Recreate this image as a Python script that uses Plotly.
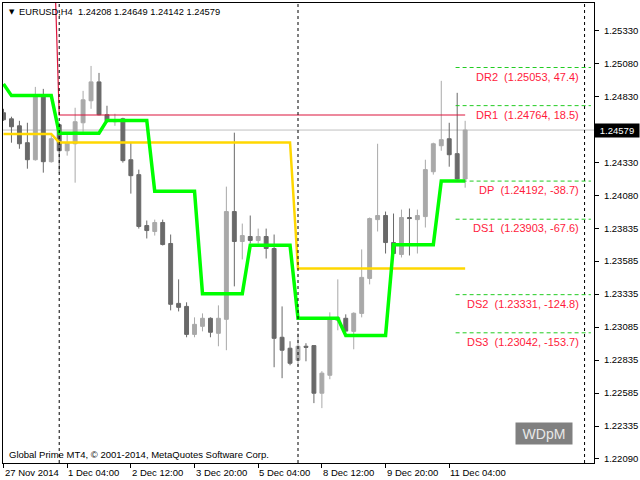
import plotly.graph_objects as go

# H4 bars, index 0 = 27 Nov 2014 20:00
opens = [1.24710, 1.24664, 1.24611, 1.24483, 1.24354, 1.24838, 1.24339, 1.24619, 1.24422, 1.24475,
         1.24634, 1.24801, 1.24944, 1.24695, 1.24642, 1.24664, 1.24354, 1.24241, 1.23855, 1.23810,
         1.23878, 1.23719, 1.23265, 1.23242, 1.23030, 1.23091, 1.23152, 1.23038, 1.23144, 1.23961,
         1.23734, 1.23772, 1.23742, 1.23772, 1.23681, 1.23008, 1.22925, 1.22834, 1.22940, 1.22945,
         1.22584, 1.22720, 1.23136, 1.23152, 1.23053, 1.23189, 1.23454, 1.23900, 1.23931, 1.23726,
         1.23636, 1.23916, 1.23900, 1.23923, 1.24263, 1.24460, 1.24513, 1.24400, 1.24208]
highs = [1.24740, 1.24680, 1.24649, 1.24634, 1.24906, 1.24891, 1.24551, 1.24634, 1.24543, 1.24748,
         1.24876, 1.25065, 1.25012, 1.24763, 1.24702, 1.24672, 1.24483, 1.24279, 1.23893, 1.23900,
         1.23900, 1.23787, 1.23447, 1.23273, 1.23159, 1.23189, 1.23159, 1.23250, 1.24150, 1.24559,
         1.23870, 1.23931, 1.23832, 1.23832, 1.23787, 1.23242, 1.22978, 1.23038, 1.22963, 1.22945,
         1.22751, 1.23197, 1.23447, 1.23182, 1.23197, 1.23674, 1.23916, 1.24475, 1.23961, 1.23946,
         1.23976, 1.23984, 1.23976, 1.24354, 1.24483, 1.24952, 1.24634, 1.24861, 1.24649]
lows = [1.24649, 1.24483, 1.24437, 1.24286, 1.24347, 1.24256, 1.24332, 1.24256, 1.24385, 1.24180,
        1.24566, 1.24740, 1.24690, 1.24634, 1.24611, 1.24332, 1.24097, 1.23832, 1.23757, 1.23779,
        1.23704, 1.23212, 1.23204, 1.23008, 1.23008, 1.23053, 1.23008, 1.22940, 1.22910, 1.23394,
        1.23598, 1.23719, 1.23719, 1.23605, 1.22781, 1.22698, 1.22796, 1.22789, 1.22826, 1.22509,
        1.22471, 1.22690, 1.23061, 1.23050, 1.22917, 1.23159, 1.23409, 1.23810, 1.23643, 1.23636,
        1.23613, 1.23628, 1.23643, 1.23840, 1.24241, 1.24422, 1.24301, 1.24203, 1.24142]
closes = [1.24657, 1.24604, 1.24475, 1.24354, 1.24838, 1.24339, 1.24513, 1.24422, 1.24483, 1.24642,
          1.24808, 1.24944, 1.24695, 1.24649, 1.24657, 1.24347, 1.24233, 1.23848, 1.23817, 1.23878,
          1.23711, 1.23258, 1.23235, 1.23030, 1.23106, 1.23152, 1.23046, 1.23152, 1.23961, 1.23734,
          1.23779, 1.23742, 1.23772, 1.23681, 1.23000, 1.22910, 1.22811, 1.22940, 1.22932, 1.22584,
          1.22736, 1.23144, 1.23159, 1.23055, 1.23190, 1.23462, 1.23908, 1.23931, 1.23726, 1.23643,
          1.23916, 1.23908, 1.23931, 1.24279, 1.24475, 1.24506, 1.24392, 1.24208, 1.24579]
bars = list(range(len(closes)))

# daily pivot (green): first / last bar of each day and its value
day_first = [0, 1, 7, 13, 19, 25, 31, 37, 43, 49, 55]
day_last = [0, 6, 12, 18, 24, 30, 36, 42, 48, 54, 58]
day_pivot = [1.24929, 1.24840, 1.24555, 1.24652, 1.24115, 1.23338, 1.23706, 1.23153, 1.23021, 1.23710, 1.24192]

# weekly pivot (gold)
week_first = [0, 7, 37]
week_last = [6, 36, 58]
week_pivot = [1.24549, 1.24485, 1.23530]

# red level (previous value is off the top of the chart)
red_bars = [6, 7, 58]
red_vals = [1.26600, 1.24693, 1.24693]

last_price = 1.24579

level_names = ['DR2', 'DR1', 'DP', 'DS1', 'DS2', 'DS3']
level_vals = [1.25053, 1.24764, 1.24192, 1.23903, 1.23331, 1.23042]
level_pips = [47.4, 18.5, -38.7, -67.6, -124.8, -153.7]

y_ticks = [1.22090, 1.22335, 1.22585, 1.22835, 1.23085, 1.23335, 1.23585, 1.23835,
           1.24080, 1.24330, 1.24830, 1.25080, 1.25330]
x_tick_bars = [0, 8, 16, 24, 32, 40, 48, 56]
x_tick_labels = ['27 Nov 2014', '1 Dec 04:00', '2 Dec 12:00', '3 Dec 20:00',
                 '5 Dec 04:00', '8 Dec 12:00', '9 Dec 20:00', '11 Dec 04:00']
separators = [7, 37, 73]

FONT = 'Arial, Liberation Sans, sans-serif'


def stepped(first, last, vals):
    xs, ys = [], []
    for a, b, v in zip(first, last, vals):
        xs += [a, b]
        ys += [v, v]
    return xs, ys


fig = go.Figure()

fig.add_trace(go.Candlestick(
    x=bars, open=opens, high=highs, low=lows, close=closes,
    increasing=dict(line=dict(color='#A9A9A9', width=1), fillcolor='#A9A9A9'),
    decreasing=dict(line=dict(color='#696969', width=1), fillcolor='#696969'),
    whiskerwidth=0, showlegend=False, hoverinfo='skip'
))

wx, wy = stepped(week_first, week_last, week_pivot)
fig.add_trace(go.Scatter(x=wx, y=wy, mode='lines', line=dict(color='#FFD700', width=2.5),
                         showlegend=False, hoverinfo='skip'))

fig.add_trace(go.Scatter(x=red_bars, y=red_vals, mode='lines', line=dict(color='#DC143C', width=1.2),
                         showlegend=False, hoverinfo='skip'))

dx, dy = stepped(day_first, day_last, day_pivot)
fig.add_trace(go.Scatter(x=dx, y=dy, mode='lines', line=dict(color='#00FF00', width=3.5),
                         showlegend=False, hoverinfo='skip'))

shapes = []
# current price line
shapes.append(dict(type='line', xref='paper', x0=0, x1=1, y0=last_price, y1=last_price,
                   line=dict(color='#C0C0C0', width=1), layer='below'))
for s in separators:
    shapes.append(dict(type='line', x0=s, x1=s, yref='paper', y0=0, y1=1,
                       line=dict(color='black', width=1, dash='3px,3px')))

annotations = []
for name, val, pip in zip(level_names, level_vals, level_pips):
    shapes.append(dict(type='line', x0=56.8, x1=73.8, y0=val, y1=val,
                       line=dict(color='#22CC22', width=1, dash='4px,3px')))
    annotations.append(dict(x=72.6, y=val, xanchor='right', yanchor='top',
                            text=f'{name}&nbsp;&nbsp;({val:.5f}, {pip})', showarrow=False, yshift=-1,
                            font=dict(family=FONT, size=11, color='#FF1A3C')))

for b, lab in zip(x_tick_bars, x_tick_labels):
    annotations.append(dict(x=b, yref='paper', y=-0.004, xanchor='left', yanchor='top',
                            text=lab, showarrow=False, xshift=-1,
                            font=dict(family=FONT, size=9.5, color='black')))

# header / footer texts
annotations.append(dict(xref='paper', yref='paper', x=0.007, y=0.981, xanchor='left', yanchor='middle',
                        text='▼', showarrow=False, font=dict(family='DejaVu Sans', size=7, color='black')))
annotations.append(dict(xref='paper', yref='paper', x=0.024, y=0.981, xanchor='left', yanchor='middle',
                        text='EURUSD,H4&nbsp;&nbsp;1.24208 1.24649 1.24142 1.24579', showarrow=False,
                        font=dict(family=FONT, size=9.3, color='black')))
annotations.append(dict(xref='paper', yref='paper', x=0.006, y=0.018, xanchor='left', yanchor='middle',
                        text='Global Prime MT4, © 2001-2014, MetaQuotes Software Corp.', showarrow=False,
                        font=dict(family=FONT, size=9.5, color='black')))
annotations.append(dict(xref='paper', yref='paper', x=0.915, y=0.065, xanchor='center', yanchor='middle',
                        text='WDpM', showarrow=False, width=54, height=19, bgcolor='#808080',
                        font=dict(family=FONT, size=14, color='#E8E8E8')))
# current price tag on the price scale
annotations.append(dict(xref='paper', x=1.0, y=last_price, xanchor='left', yanchor='middle',
                        text=f'{last_price:.5f}', showarrow=False, bgcolor='black', borderpad=1,
                        width=42, font=dict(family=FONT, size=9.5, color='white')))

fig.update_layout(
    width=640, height=480,
    margin=dict(l=3, r=43, t=2, b=17),
    paper_bgcolor='white', plot_bgcolor='white',
    shapes=shapes, annotations=annotations,
    xaxis=dict(range=[-0.0625, 74.1875], rangeslider=dict(visible=False), showgrid=False,
               zeroline=False, showline=True, linecolor='black', linewidth=1, mirror=True,
               tickvals=x_tick_bars, ticktext=['' for _ in x_tick_bars], ticks='outside',
               ticklen=4, tickcolor='black'),
    yaxis=dict(range=[1.22055, 1.25542], side='right', showgrid=False, zeroline=False,
               showline=True, linecolor='black', linewidth=1, mirror=True,
               tickvals=y_ticks, ticktext=[f'{v:.5f}' for v in y_ticks], ticks='outside',
               ticklen=4, tickcolor='black', ticklabelstandoff=3,
               tickfont=dict(family=FONT, size=9.5, color='black')),
    boxgap=0.3,
)

# the page body has a default 8px margin; drop it so the chart sits at the window's corner
fig.write_html("out.html", config={'displayModeBar': False},
               post_script="document.body.style.margin='0px';")
